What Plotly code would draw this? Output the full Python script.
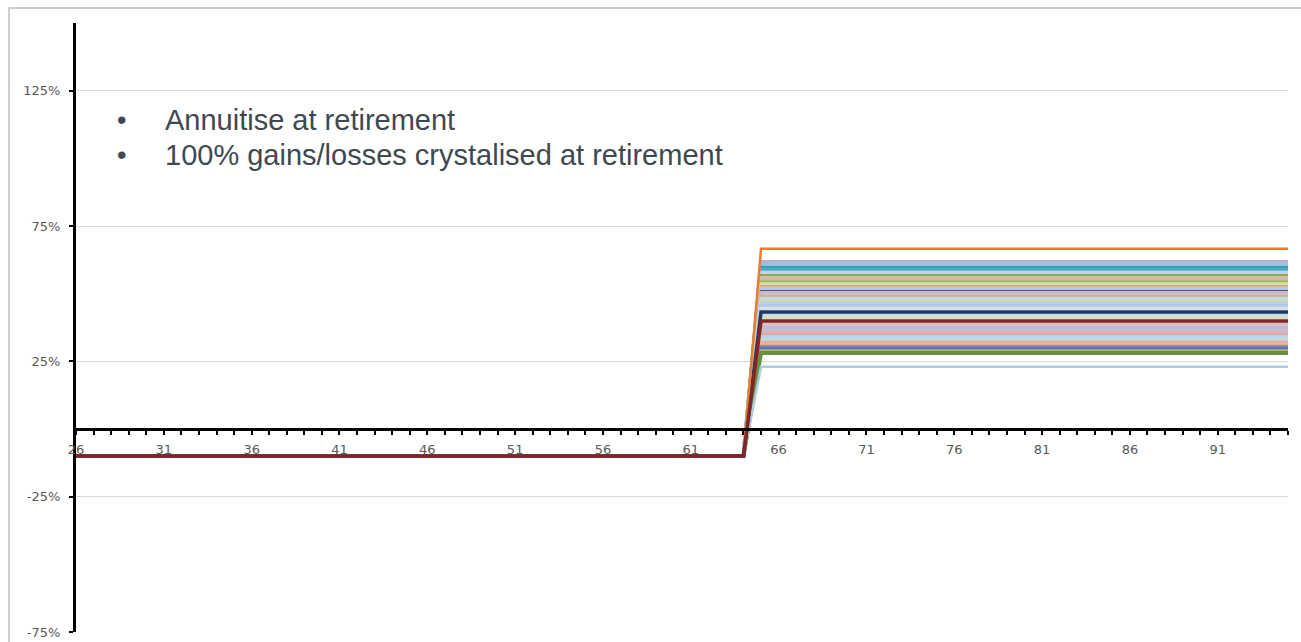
import plotly.graph_objects as go

# ---- data ----
ages = list(range(26, 96))
retirement_age = 65
pre_retirement_value = -10.0  # % before retirement (all scenarios)

# outcome after retirement (%) per scenario, roughly top to bottom
final_values = [66.6, 61.8, 61.0, 59.6, 59.0, 57.8, 56.7, 56.0, 55.5, 54.3,
                53.6, 52.7, 52.0, 50.9, 50.3, 49.0, 48.2, 47.3, 46.3, 45.5,
                44.5, 43.2, 42.2, 41.3, 39.9, 38.8, 38.1, 37.3, 36.5, 35.7,
                35.0, 34.0, 33.2, 32.0, 31.3, 30.5, 29.8, 28.8, 28.1, 23.0]
colors = ['#EC7C30', '#AEB3D6', '#A3C0DB', '#2E9AB3', '#4BACC6', '#C2D5E4',
          '#77933C', '#BDD290', '#E3B0AF', '#9BBB59', '#D2E1B4', '#E7A56B',
          '#B4C9E3', '#604A7B', '#C6BAD6', '#D6AD84', '#C1D5EF', '#CBDDB0',
          '#BDD1E5', '#B0C8E0', '#D5E1EF', '#1F3864', '#C9D9E8', '#D2E0C8',
          '#7F2628', '#E3BDBD', '#D8BECA', '#BFB9D7', '#B8C2DD', '#E3B0AF',
          '#D8ACAC', '#B0D9E6', '#C3D9EA', '#F0AA8F', '#F8B780', '#8E8FC6',
          '#6E6EB5', '#9FBB70', '#6B8E3E', '#A8CCE0']
widths = [2.5, 3.5, 3.5, 4, 3.5, 3.5, 2.5, 3.5, 3.5, 3.5, 3.5, 2.5, 3.5, 2.5, 3.5, 3.5, 3.5, 3.5, 3.5, 3.5,
          3.5, 3.5, 3.5, 3.5, 3.5, 3.5, 3.5, 3.5, 3.5, 3.5, 3.5, 3.5, 3.5, 3.5, 3.5, 3.5, 3.5, 3.5, 4, 2.5]

y_tickvals = [-75, -25, 25, 75, 125]
y_ticktext = ['-75%', '-25%', '25%', '75%', '125%']
bullets = ['Annuitise at retirement', '100% gains/losses crystalised at retirement']

fig = go.Figure()

# draw order: light ones first, emphasised ones last
order = list(range(len(final_values)))
emph = [21, 0, 24]
order = [i for i in order if i not in emph] + emph
for i in order:
    ys = [pre_retirement_value if a < retirement_age else final_values[i] for a in ages]
    fig.add_trace(go.Scatter(x=ages, y=ys, mode='lines',
                             line=dict(color=colors[i], width=widths[i]),
                             showlegend=False, hoverinfo='skip'))

fig.update_layout(
    width=1301, height=642,
    margin=dict(l=76, r=13, t=23, b=10, autoexpand=False),
    paper_bgcolor='white', plot_bgcolor='white',
    showlegend=False,
    xaxis=dict(
        range=[26, 95], anchor='free', position=1/3, automargin=False,
        tickmode='linear', tick0=26, dtick=5,
        showline=True, linecolor='black', linewidth=3,
        ticks='outside', ticklen=4, tickwidth=1.5, tickcolor='black',
        ticklabelstandoff=3,
        minor=dict(dtick=1, tick0=26, ticks='outside', ticklen=4, tickwidth=1.5, tickcolor='black', showgrid=False),
        showgrid=False, zeroline=False,
        tickfont=dict(family='DejaVu Sans', size=13, color='#595959'),
    ),
    yaxis=dict(
        range=[-75, 150], tickvals=y_tickvals, ticktext=y_ticktext, automargin=False,
        showline=True, linecolor='black', linewidth=3,
        ticks='outside', ticklen=4, tickwidth=1.5, tickcolor='black',
        ticklabelstandoff=6,
        showgrid=True, gridcolor='#D9D9D9', gridwidth=1.2,
        zeroline=False,
        tickfont=dict(family='DejaVu Sans', size=13, color='#595959'),
    ),
    shapes=[dict(type='rect', xref='paper', yref='paper',
                 x0=-0.0553, x1=1.05, y0=-0.05, y1=1.0246,
                 line=dict(color='#BFBFBF', width=1.5), layer='below')],
)

for k, txt in enumerate(bullets):
    fig.add_annotation(xref='paper', yref='paper', x=(115 - 76) / 1212, y=(632 - (120 + 35 * k)) / 609,
                       text='•', showarrow=False, xanchor='left', yanchor='middle',
                       font=dict(family='Liberation Sans', size=27, color='#404850'))
    fig.add_annotation(xref='paper', yref='paper', x=(163 - 76) / 1212, y=(632 - (120 + 35 * k)) / 609,
                       text=txt, showarrow=False, xanchor='left', yanchor='middle',
                       font=dict(family='Liberation Sans', size=29, color='#404850'))

fig.write_html('out.html')
